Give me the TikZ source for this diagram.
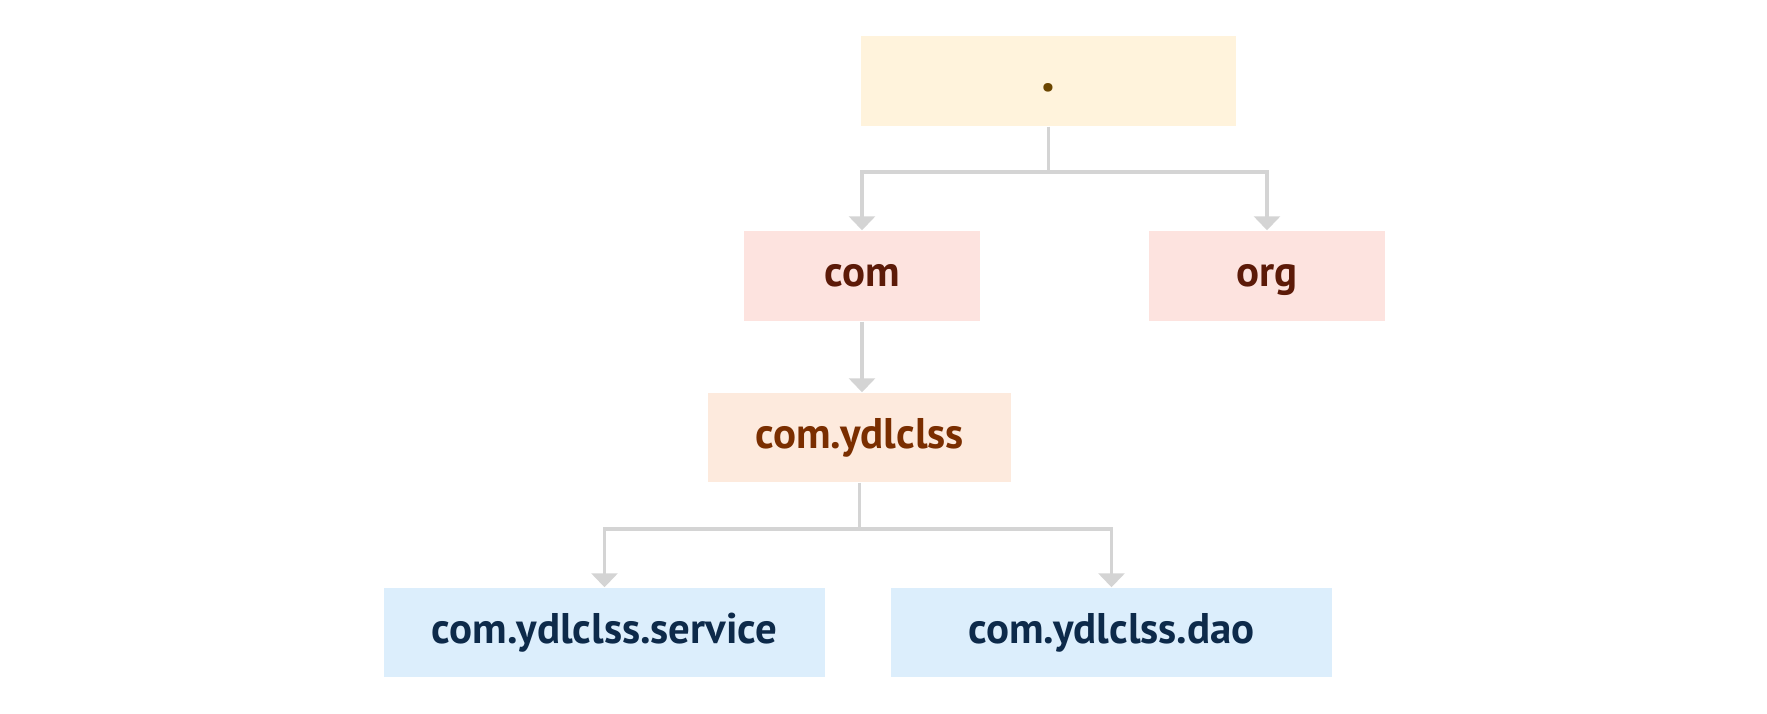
\documentclass[tikz,border=0pt]{standalone}
\usepackage{fontspec}
\setmainfont{PT Sans}
\usetikzlibrary{arrows.meta}
\definecolor{linegray}{HTML}{D4D4D4}
\definecolor{rootfill}{HTML}{FFF3DC}
\definecolor{roottext}{HTML}{6B4500}
\definecolor{topfill}{HTML}{FDE3DF}
\definecolor{toptext}{HTML}{5C1A08}
\definecolor{midfill}{HTML}{FDEADD}
\definecolor{midtext}{HTML}{7A2E00}
\definecolor{leaffill}{HTML}{DCEEFC}
\definecolor{leaftext}{HTML}{0D2A4A}
\tikzset{
	boxstyle/.style={rectangle,inner sep=0pt,text height=0.3cm,text depth=0.08cm,font=\fontsize{12.2}{15}\selectfont\bfseries},
	rootstyle/.style={boxstyle,fill=rootfill,text=roottext,minimum width=3.75cm,minimum height=0.9cm,font=\fontsize{16}{18}\selectfont\bfseries},
	topstyle/.style={boxstyle,fill=topfill,text=toptext,minimum width=2.36cm,minimum height=0.9cm},
	midstyle/.style={boxstyle,fill=midfill,text=midtext,minimum width=3.03cm,minimum height=0.89cm},
	leafstyle/.style={boxstyle,fill=leaffill,text=leaftext,minimum width=4.41cm,minimum height=0.89cm},
	link/.style={draw=linegray,line width=0.9pt,-{Triangle[width=0.26cm,length=0.14cm]}}
}
\begin{document}
\begin{tikzpicture}
		\useasboundingbox (0,0) rectangle (17.67,7.14);
		\node[rootstyle] (root) at (10.485,6.33) {.};
		\node[topstyle] (com) at (8.62,4.38) {com};
		\node[topstyle] (org) at (12.67,4.38) {org};
		\node[midstyle] (ydl) at (8.595,2.765) {com.ydlclss};
		\node[leafstyle] (service) at (6.045,0.815) {com.ydlclss.service};
		\node[leafstyle] (dao) at (11.115,0.815) {com.ydlclss.dao};
		\coordinate (split1) at (10.485,5.42);
		\coordinate (split2) at (8.595,1.85);
		\draw[link] (root.south) -- (split1) -| (com.north);
		\draw[link] (split1) -| (org.north);
		\draw[link] (com.south) -- (com.south |- ydl.north);
		\draw[link] (ydl.south) -- (split2) -| (service.north);
		\draw[link] (split2) -| (dao.north);
\end{tikzpicture}
\end{document}
